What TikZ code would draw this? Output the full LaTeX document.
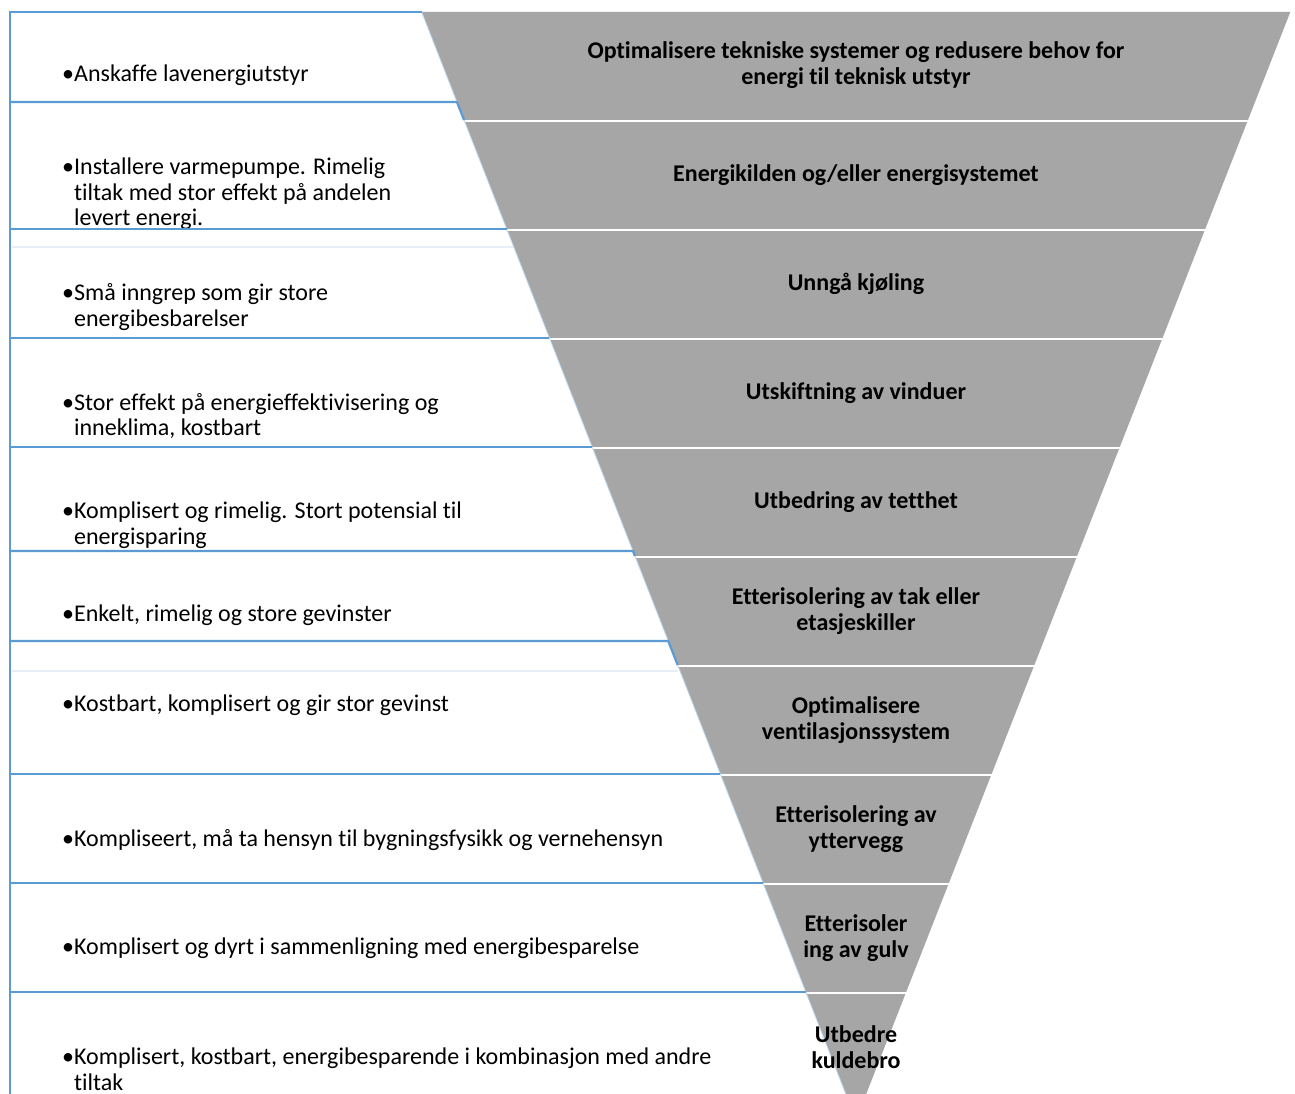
\documentclass[tikz,border=0pt]{standalone}
\usepackage{fontspec}
\setmainfont{Carlito}[Ligatures={NoCommon}]
\definecolor{bandgray}{RGB}{166,166,166}
\definecolor{lineblue}{RGB}{91,155,213}
\definecolor{paleblue}{RGB}{189,215,238}
\definecolor{faintblue}{RGB}{232,238,247}
\newcommand{\bul}{\textbullet}
\begin{document}
\begin{tikzpicture}[x=1pt,y=-1pt,
  lt/.style={anchor=west, align=left, inner sep=0pt, font=\fontsize{24}{25.5}\selectfont},
  gt/.style={anchor=center, align=center, inner sep=0pt, font=\bfseries\fontsize{24}{25.8}\selectfont},
  blueline/.style={draw=lineblue, line width=2.2pt},
  faintline/.style={draw=faintblue, line width=2pt},
  gapline/.style={draw=white, line width=2.6pt}]
\useasboundingbox[fill=white] (0,0) rectangle (1295,1094);
% pyramid
\fill[bandgray] (421.7,12) -- (1290.3,12) -- (856,1120) -- cycle;
\foreach \k in {1,...,9}{
  \pgfmathsetmacro\yy{12+109*\k}
  \pgfmathsetmacro\xl{856-0.392*(1120-\yy)-2}
  \pgfmathsetmacro\xr{856+0.392*(1120-\yy)+2}
  \draw[gapline] (\xl,\yy) -- (\xr,\yy);
}
\draw[paleblue, line width=0.8pt] (421.7,12) -- (856,1120);
% left texts
\node[lt] (t1) at (62,75) {\bul Anskaffe lavenergiutstyr};
\node[lt] (t2) at (62,194) {\bul Installere varmepumpe. Rimelig\\\phantom{\bul}tiltak med stor effekt på andelen\\\phantom{\bul}levert energi.};
\fill[white] (12,230.5) rectangle (505,245);
\node[lt] (t3) at (62,307) {\bul Små inngrep som gir store\\\phantom{\bul}energibesbarelser};
\node[lt] (t4) at (62,416) {\bul Stor effekt på energieffektivisering og\\\phantom{\bul}inneklima, kostbart};
\node[lt] (t5) at (62,525) {\bul Komplisert og rimelig. Stort potensial til\\\phantom{\bul}energisparing};
\node[lt] (t6) at (62,615) {\bul Enkelt, rimelig og store gevinster};
\node[lt] (t7) at (62,705) {\bul Kostbart, komplisert og gir stor gevinst};
\node[lt] (t8) at (62,840) {\bul Kompliseert, må ta hensyn til bygningsfysikk og vernehensyn};
\node[lt] (t9) at (62,948) {\bul Komplisert og dyrt i sammenligning med energibesparelse};
\node[lt] (t10) at (62,1069) {\bul Komplisert, kostbart, energibesparende i kombinasjon med andre\\\phantom{\bul}tiltak};
% blue lines
\draw[faintline] (12,247) -- (513,247);
\draw[faintline] (12,671) -- (678,671);
\foreach \y/\yb in {12/12, 102/120, 229/229, 338/338, 447/447, 551/556, 641/665, 774/774, 883/883, 992/992}{
  \pgfmathsetmacro\xa{856-0.392*(1120-\y)}
  \pgfmathsetmacro\xb{856-0.392*(1120-\yb)}
  \draw[blueline] (10,\y) -- (\xa,\y) -- (\xb,\yb);
}
\draw[blueline] (10,11) -- (10,1094);
% band texts
\node[gt] (g1) at (856,65) {Optimalisere tekniske systemer og redusere behov for\\energi til teknisk utstyr};
\node[gt] (g2) at (856,175) {Energikilden og/eller energisystemet};
\node[gt] (g3) at (856,284) {Unngå kjøling};
\node[gt] (g4) at (856,393) {Utskiftning av vinduer};
\node[gt] (g5) at (856,502) {Utbedring av tetthet};
\node[gt] (g6) at (856,611) {Etterisolering av tak eller\\etasjeskiller};
\node[gt] (g7) at (856,720) {Optimalisere\\ventilasjonssystem};
\node[gt] (g8) at (856,829) {Etterisolering av\\yttervegg};
\node[gt] (g9) at (856,938) {Etterisoler\\ing av gulv};
\node[gt] (g10) at (856,1047) {Utbedre\\kuldebro};
\end{tikzpicture}
\end{document}
